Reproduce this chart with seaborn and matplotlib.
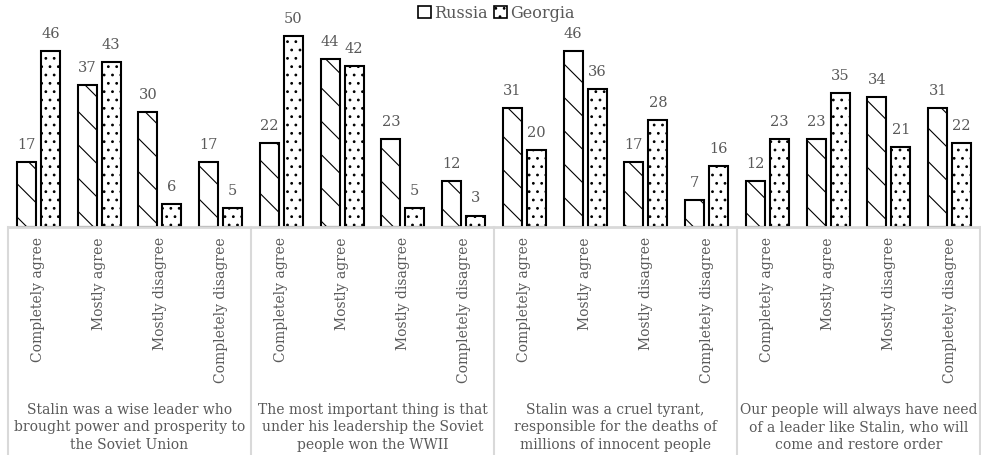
import matplotlib
matplotlib.use("Agg")
import matplotlib.pyplot as plt
from matplotlib.patches import Patch
from matplotlib.transforms import blended_transform_factory
import seaborn as sns
import pandas as pd

# Survey statements (groups) and answer categories
statements = [
    "Stalin was a wise leader who\nbrought power and prosperity to\nthe Soviet Union",
    "The most important thing is that\nunder his leadership the Soviet\npeople won the WWII",
    "Stalin was a cruel tyrant,\nresponsible for the deaths of\nmillions of innocent people",
    "Our people will always have need\nof a leader like Stalin, who will\ncome and restore order",
]
answers = ["Completely agree", "Mostly agree", "Mostly disagree", "Completely disagree"]
countries = ["Russia", "Georgia"]

# Percentages per statement, in answer order
russia = [17, 37, 30, 17,
          22, 44, 23, 12,
          31, 46, 17, 7,
          12, 23, 34, 31]
georgia = [46, 43, 6, 5,
           50, 42, 5, 3,
           20, 36, 28, 16,
           23, 35, 21, 22]

TEXT = "#595959"
GRID = "#d9d9d9"
plt.rcParams["font.family"] = ["DejaVu Serif"]
plt.rcParams["hatch.linewidth"] = 0.8

slots = [f"{i}|{a}" for i in range(len(statements)) for a in answers]
df = pd.DataFrame({
    "slot": slots * 2,
    "country": ["Russia"] * len(slots) + ["Georgia"] * len(slots),
    "value": russia + georgia,
})

fig = plt.figure(figsize=(9.81, 4.56), dpi=100)
ax = fig.add_axes([8 / 981, 0.5, 972 / 981, 0.5 - 29 / 456])

sns.barplot(data=df, x="slot", y="value", hue="country", order=slots,
            hue_order=countries, palette=["white", "white"], width=0.79, gap=0.2,
            edgecolor="black", linewidth=1.5, ax=ax, legend=False, errorbar=None)

hatches = {"Russia": "\\", "Georgia": ".."}
for cont, name in zip(ax.containers, countries):
    for bar in cont:
        bar.set_hatch(hatches[name])
    ax.bar_label(cont, padding=8, color=TEXT, fontsize=10.5)

ax.set_xlim(-0.5, len(slots) - 0.5)
ax.set_ylim(0, 52)
ax.set_yticks([])
ax.set_xlabel("")
ax.set_ylabel("")
ax.set_xticks([])
for s in ["left", "right", "top"]:
    ax.spines[s].set_visible(False)
ax.spines["bottom"].set_color(GRID)
ax.spines["bottom"].set_linewidth(2)

# x in data units, y in figure fraction (for the category area below the axes)
tr = blended_transform_factory(ax.transData, fig.transFigure)
# answer labels, rotated under each cluster
for i, slot in enumerate(slots):
    ax.text(i, 1 - 237 / 456, slot.split("|")[1], rotation=90, ha="center", va="top",
            transform=tr, color=TEXT, fontsize=10)
# group separators and statement labels
for g in range(len(statements) + 1):
    x = g * 4 - 0.5
    ax.plot([x, x], [0.5, 0], transform=tr, color=GRID, lw=1.5, clip_on=False)
for g, st in enumerate(statements):
    ax.text(g * 4 + 1.5, 4 / 456, st, ha="center", va="bottom", transform=tr,
            color=TEXT, fontsize=10, linespacing=1.33)

handles = [Patch(facecolor="white", edgecolor="black", hatch=hatches[c], lw=1.2)
           for c in countries]
fig.legend(handles, countries, loc="center", bbox_to_anchor=(496 / 981, 1 - 14 / 456),
           ncol=2, frameon=False, handlelength=0.8, handleheight=0.8,
           handletextpad=0.2, columnspacing=0.4, labelcolor=TEXT, fontsize=11.5)

fig.savefig("out.png", dpi=100)
